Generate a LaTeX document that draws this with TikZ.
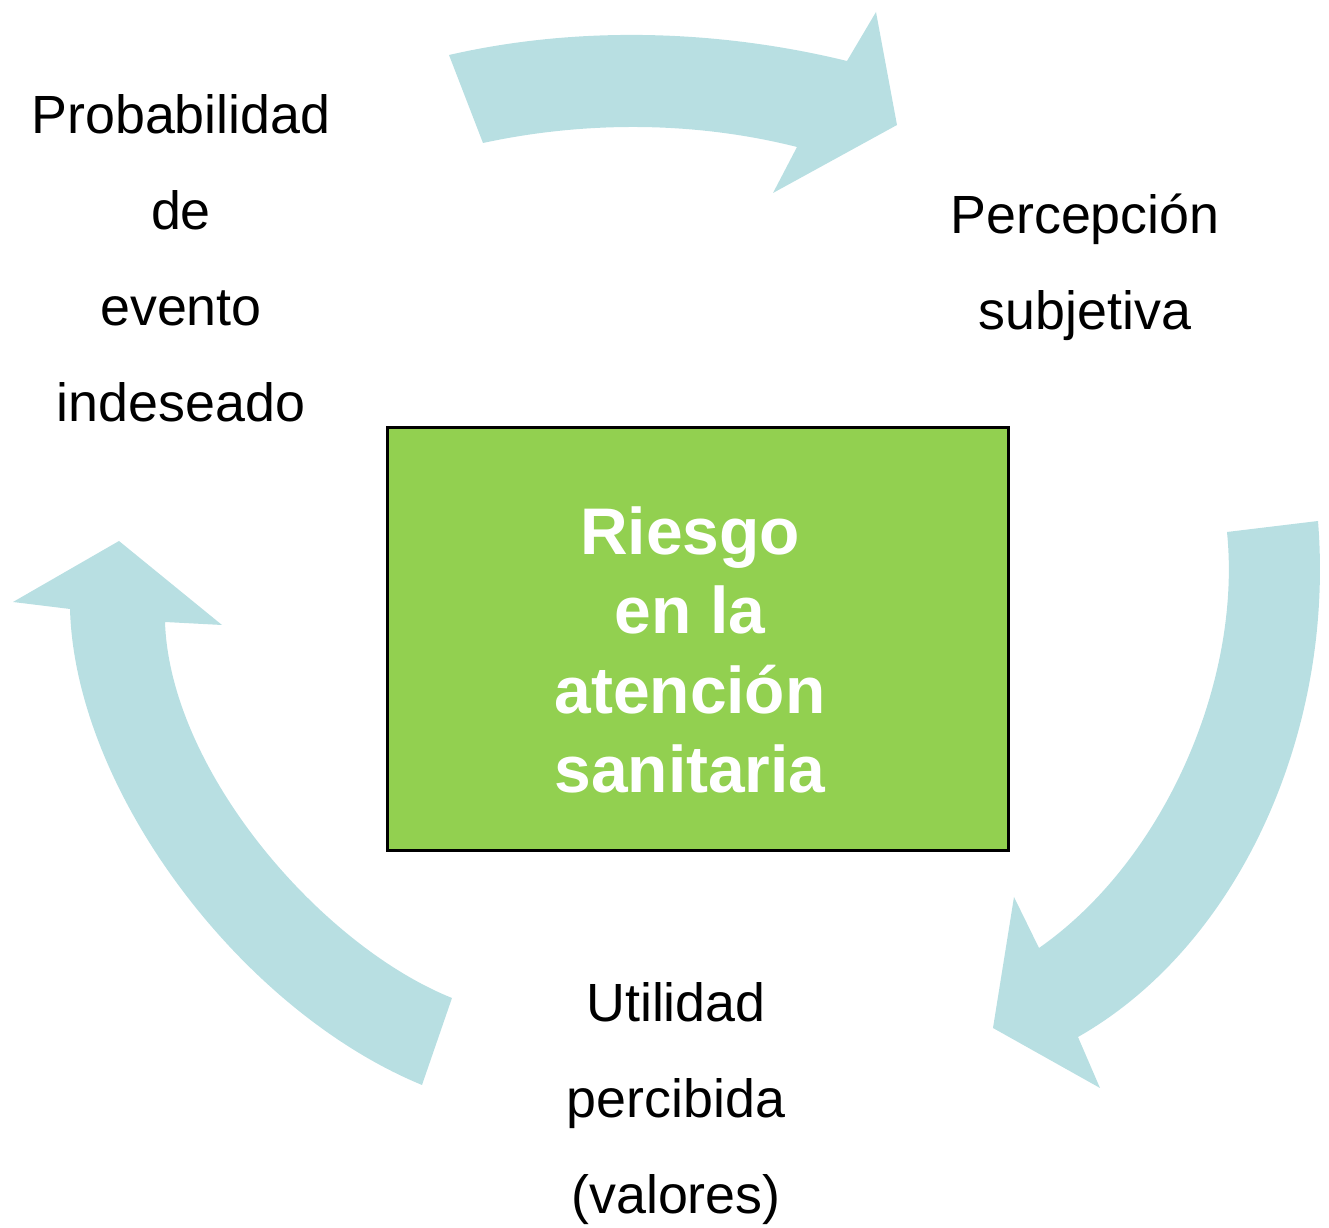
\documentclass[tikz,border=0pt]{standalone}
\usepackage{fontspec}
\setmainfont{Liberation Sans}
\definecolor{flowblue}{RGB}{184,223,226}
\definecolor{coregreen}{RGB}{146,208,80}

\begin{document}
\begin{tikzpicture}[
			x=0.01cm,
			y=-0.01cm,
			flow/.style={
				fill=flowblue
			},
			lbl/.style={
				align=center,
				inner sep=0pt,
				font=\fontsize{15.3}{27.3}\selectfont
			},
			core/.style={
				draw=black,
				line width=0.85pt,
				fill=coregreen,
				minimum width=6.2cm,
				minimum height=4.22cm
			},
			coretext/.style={
				text=white,
				align=center,
				inner sep=0pt,
				font=\fontsize{18.75}{22.5}\selectfont\bfseries
			}
			]
			
			\useasboundingbox (0,0) rectangle (1329,1228);
			
			\fill[flow] (449,55) .. controls (580,25) and (720,30) .. (847,61) -- (876,12) -- (897,125) -- (773,193) -- (797,147) .. controls (690,120) and (580,122) .. (483,143) -- cycle;
			
			\fill[flow] (1227,532) -- (1318,521) .. controls (1335,730) and (1240,945) .. (1078,1037) -- (1100,1088) -- (993,1028) -- (1014,897) -- (1039,948) .. controls (1165,860) and (1242,680) .. (1227,532) -- cycle;
			
			\fill[flow] (452,998) .. controls (320,945) and (170,770) .. (165,622) -- (222,625) -- (119,541) -- (13,602) -- (70,609) .. controls (75,790) and (240,1010) .. (422,1085) -- cycle;
			
			\node[core] (riesgo) at (698,639) {};
			\node[coretext] (riesgotxt) at ([shift={(-8,11)}]riesgo.center)
			{Riesgo\\en la\\atención\\sanitaria};
			
			\node[lbl] (probabilidad) at (181,258)
			{Probabilidad\\de\\evento\\indeseado};
			
			\node[lbl] (percepcion) at (1085,267)
			{Percepción\\subjetiva};
			
			\node[lbl] (utilidad) at (676,1104)
			{Utilidad\\percibida\\(valores)};
			
		\end{tikzpicture}
\end{document}
